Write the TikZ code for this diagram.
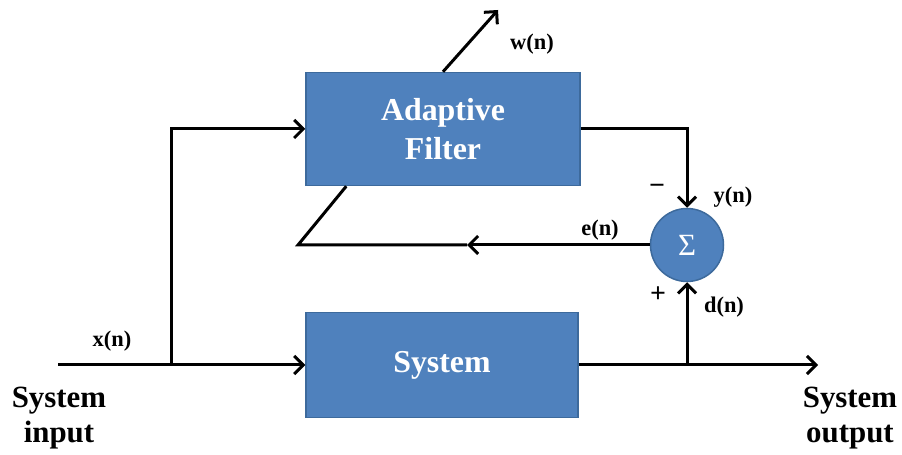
\documentclass[tikz,border=0pt]{standalone}
\usepackage{fontspec}
\setmainfont{Liberation Serif}
\usetikzlibrary{arrows.meta,calc}
\definecolor{boxblue}{HTML}{4F81BD}
\definecolor{boxedge}{HTML}{3D6A9C}
\begin{document}
\begin{tikzpicture}[x=1bp,y=-1bp,
  block/.style={draw=boxedge, line width=1.5bp, fill=boxblue, text=white,
    font=\fontsize{32}{39}\selectfont\bfseries, align=center, inner sep=0pt},
  sumnode/.style={circle, draw=boxedge, line width=1.5bp, fill=boxblue, text=white,
    minimum size=73bp, inner sep=0pt, font=\fontsize{31}{33}\selectfont},
  wire/.style={line width=3bp},
  arr/.style={wire, -{Straight Barb[length=9bp,width=18bp,line width=3bp]}},
  lbl/.style={font=\fontsize{22.5}{25}\selectfont\bfseries, inner sep=0pt},
  sign/.style={font=\fontsize{28}{30}\selectfont\bfseries, inner sep=0pt},
  io/.style={font=\fontsize{31}{35}\selectfont\bfseries, inner sep=0pt, anchor=base}]
\useasboundingbox (0,0) rectangle (902,455);

% blocks
\node[block, minimum width=274bp, minimum height=113bp] (af) at (443,129) {Adaptive\\Filter};
\node[block, minimum width=272bp, minimum height=105bp] (sys) at (442,365) {System};
\node[sumnode] (sum) at (687,245) {Σ};

% junctions and free ends
\coordinate (in)  at (58,365);
\coordinate (br)  at (171,365);
\coordinate (dn)  at (sum.south |- sys.east);
\coordinate (out) at (818,365);
\coordinate (ea)  at (467,245);
\coordinate (ek)  at (298,245);
\coordinate (ed)  at ($(af.south west)+(41,0)$);
\coordinate (wt)  at (498,10);

% signal paths
\draw[wire] (in) -- (br);
\draw[arr] (br) -- (sys.west);
\draw[arr] (br) |- (af.west);
\draw[wire] (sys.east) -- (dn);
\draw[arr] (dn) -- (out);
\draw[arr] (dn) -- (sum.south);
\draw[arr] (af.east) -| (sum.north);
\draw[arr] (sum.west) -- (ea);
\draw[wire] (ea) -- (ek) -- (ed);
\draw[arr] (af.north) -- (wt);

% labels
\node[lbl] (lw) at (532,44) {w(n)};
\node[lbl] (ly) at (733,197) {y(n)};
\node[sign] (lm) at (657,189) {−};
\node[lbl] (le) at (600,230) {e(n)};
\node[sign] (lp) at (658,295) {+};
\node[lbl] (ld) at (724,307) {d(n)};
\node[lbl] (lx) at (112,341) {x(n)};
\node[io] (si1) at (59,407) {System};
\node[io] (si2) at (59,442) {input};
\node[io] (so1) at (850,407) {System};
\node[io] (so2) at (850,442) {output};
\end{tikzpicture}
\end{document}
